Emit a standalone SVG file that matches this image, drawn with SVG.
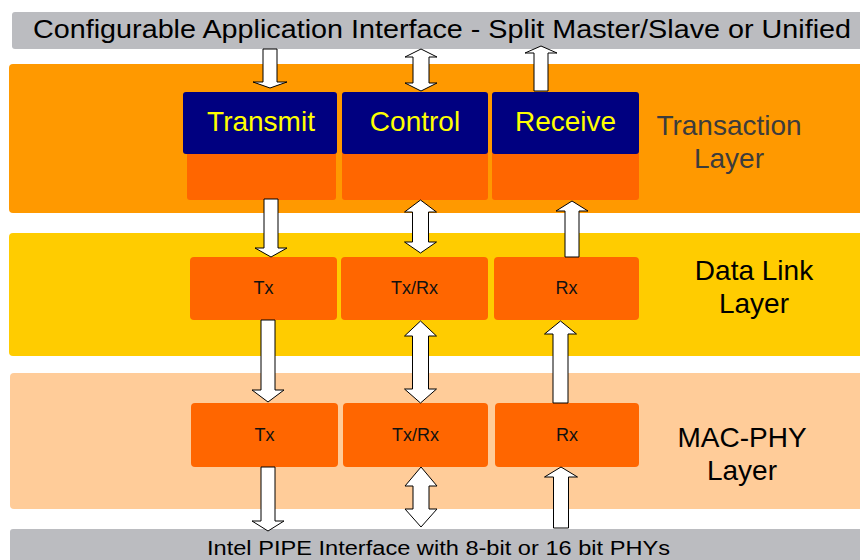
<svg xmlns="http://www.w3.org/2000/svg" width="860" height="560" viewBox="0 0 860 560">
<style>
text{font-family:"Liberation Sans",Arial,sans-serif}
.bar{fill:#bbbcc0}
.blue{fill:#000080}
.org{fill:#ff6600}
.big{font-size:28px;fill:#ffff00;text-anchor:middle}
.lay{font-size:28px;text-anchor:middle}
.sm{font-size:18px;fill:#111;text-anchor:middle}
.arr{fill:#fff;stroke:#000;stroke-width:1;stroke-linejoin:miter}
</style>
<rect width="860" height="560" fill="#fff"/>
<g id="app-interface">
<rect class="bar" x="12" y="12" width="856" height="37" rx="3"/>
<text x="442" y="38" font-size="26" text-anchor="middle" fill="#000" textLength="818" lengthAdjust="spacingAndGlyphs">Configurable Application Interface - Split Master/Slave or Unified</text>
</g>
<g id="transaction-layer">
<rect x="9" y="64" width="860" height="149" rx="4" fill="#ff9900"/>
<text class="lay" x="729" y="135" fill="#3c3c3c">Transaction</text>
<text class="lay" x="729" y="168" fill="#3c3c3c">Layer</text>
</g>
<g id="datalink-layer">
<rect x="9" y="233" width="860" height="123" rx="4" fill="#ffcc00"/>
<text class="lay" x="754" y="280" fill="#000">Data Link</text>
<text class="lay" x="754" y="313" fill="#000">Layer</text>
</g>
<g id="macphy-layer">
<rect x="10" y="373" width="860" height="136" rx="4" fill="#ffcc99"/>
<text class="lay" x="742" y="447" fill="#000">MAC-PHY</text>
<text class="lay" x="742" y="480" fill="#000">Layer</text>
</g>
<g id="pipe-interface">
<rect class="bar" x="10" y="529" width="860" height="40" rx="3"/>
<text x="438.5" y="555" font-size="20" text-anchor="middle" fill="#000" textLength="463" lengthAdjust="spacingAndGlyphs">Intel PIPE Interface with 8-bit or 16 bit PHYs</text>
</g>
<g id="transmit">
<rect class="org" x="187" y="150" width="149" height="50" rx="3"/>
<rect class="blue" x="183" y="92" width="154" height="62" rx="3"/>
<text class="big" x="261" y="131">Transmit</text>
</g>
<g id="control">
<rect class="org" x="342" y="150" width="146" height="50" rx="3"/>
<rect class="blue" x="342" y="92" width="146" height="62" rx="3"/>
<text class="big" x="415" y="131">Control</text>
</g>
<g id="receive">
<rect class="org" x="492" y="150" width="147" height="50" rx="3"/>
<rect class="blue" x="492" y="92" width="147" height="62" rx="3"/>
<text class="big" x="565.5" y="131">Receive</text>
</g>
<g id="dl-tx">
<rect class="org" x="190" y="257" width="147" height="63" rx="4"/>
<text class="sm" x="263.5" y="294">Tx</text>
</g>
<g id="dl-txrx">
<rect class="org" x="341" y="257" width="147" height="63" rx="4"/>
<text class="sm" x="414.5" y="294">Tx/Rx</text>
</g>
<g id="dl-rx">
<rect class="org" x="494" y="257" width="145" height="63" rx="4"/>
<text class="sm" x="566.5" y="294">Rx</text>
</g>
<g id="mp-tx">
<rect class="org" x="191" y="403" width="147" height="64" rx="4"/>
<text class="sm" x="264.5" y="441">Tx</text>
</g>
<g id="mp-txrx">
<rect class="org" x="343" y="403" width="145" height="64" rx="4"/>
<text class="sm" x="415.5" y="441">Tx/Rx</text>
</g>
<g id="mp-rx">
<rect class="org" x="495" y="403" width="144" height="64" rx="4"/>
<text class="sm" x="567" y="441">Rx</text>
</g>
<g id="connectors">
<polygon class="arr" points="263,49 277,49 277,82 287,82 270,88 253,82 263,82"/>
<polygon class="arr" points="421,49 437,57 429,57 429,83 437,83 421,91 405,83 413,83 413,57 405,57"/>
<polygon class="arr" points="541,46 557,53 548,53 548,91 534,91 534,53 525,53"/>
<polygon class="arr" points="264,199 278,199 278,248 287,248 271,257 255,248 264,248"/>
<polygon class="arr" points="420.5,200 436.5,212 428.5,212 428.5,242 436.5,242 420.5,253 404.5,242 412.5,242 412.5,212 404.5,212"/>
<polygon class="arr" points="572,201 588,211 579,211 579,257 565,257 565,211 556,211"/>
<polygon class="arr" points="261,320 275,320 275,390 284,390 268,402 252,390 261,390"/>
<polygon class="arr" points="420.5,321 436.5,336 428.5,336 428.5,389 436.5,389 420.5,403 404.5,389 412.5,389 412.5,336 404.5,336"/>
<polygon class="arr" points="560.5,321 576.5,334 568,334 568,403 553,403 553,334 544.5,334"/>
<polygon class="arr" points="261,467 275,467 275,521 284,521 268,531 252,521 261,521"/>
<polygon class="arr" points="421,467 437,486 429,486 429,509 437,509 421,527 405,509 413,509 413,486 405,486"/>
<polygon class="arr" points="561,467 577.5,477 568.5,477 568.5,528 553.5,528 553.5,477 544.5,477"/>
</g>
</svg>
